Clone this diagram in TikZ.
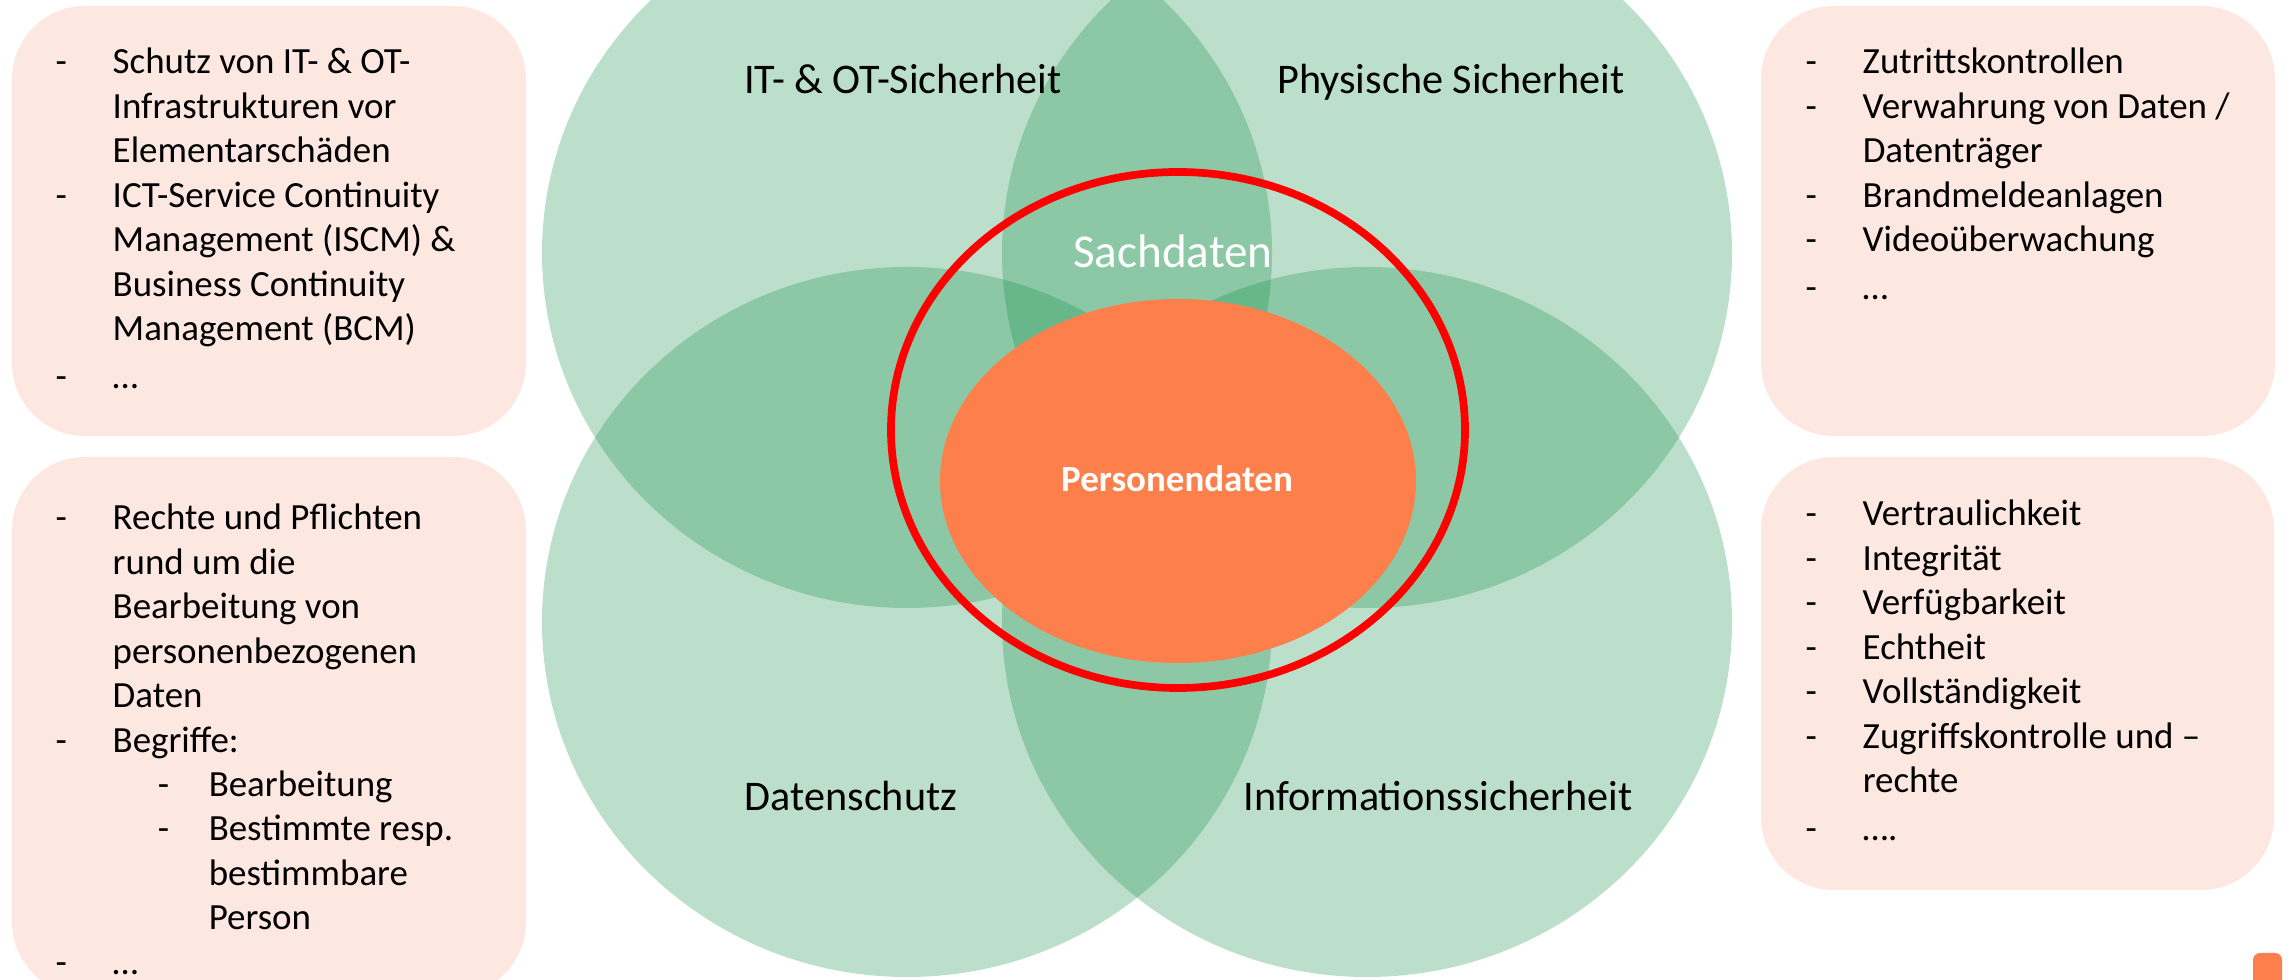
\documentclass[tikz,border=0pt]{standalone}
\usepackage{fontspec}
\setmainfont{Carlito}
\definecolor{venngreen}{RGB}{8,138,64}
\definecolor{boxpink}{RGB}{253,231,225}
\definecolor{persorange}{RGB}{252,127,76}
\colorlet{ringred}{red}

% list lines: dash, continuation, sub dash, sub continuation
\newcommand{\dashitem}[1]{\makebox[0.57cm][l]{-}#1}
\newcommand{\dashcont}[1]{\hspace*{0.57cm}#1}
\newcommand{\dashsub}[1]{\hspace*{1.02cm}\makebox[0.51cm][l]{-}#1}
\newcommand{\subcont}[1]{\hspace*{1.53cm}#1}

\tikzset{
    venn/.style={fill=venngreen, fill opacity=0.27},
    listbox/.style={fill=boxpink, rounded corners=0.73cm},
    listtext/.style={anchor=base west, inner sep=0pt, font=\fontsize{10.5}{12.63}\selectfont},
    setlabel/.style={anchor=base, inner sep=0pt, font=\fontsize{12}{14}\selectfont}
}

\begin{document}
\begin{tikzpicture}[x=0.01cm, y=-0.01cm]
        \useasboundingbox (0,0) rectangle (2290,980);
        % boxes
        \foreach \x in {12,1761}{
            \fill[listbox] (\x,6) rectangle (\x+514,436);
        }
        \fill[listbox] (12,457) rectangle (526,995);
        \fill[listbox] (1761,457) rectangle (2274,890);
        % the four sets
        \foreach \x in {907,1367}{
            \foreach \y in {253,622}{
                \fill[venn] (\x,\y) ellipse [x radius=365, y radius=355];
            }
        }
        \fill[persorange] (1178,481) ellipse [x radius=238, y radius=182];
        \draw[ringred, line width=2.2pt] (1178,430) ellipse [x radius=287, y radius=258];
        \fill[persorange, rounded corners=2pt] (2253,953) rectangle (2282,990);
        % labels
        \node[setlabel] (itot) at (903,94) {IT- \& OT-Sicherheit};
        \node[setlabel] (phys) at (1451,94) {Physische Sicherheit};
        \node[setlabel] (dsch) at (851,811) {Datenschutz};
        \node[setlabel] (info) at (1438,811) {Informationssicherheit};
        \node[anchor=base, inner sep=0pt, text=white, font=\fontsize{13.4}{16}\selectfont] (sach) at (1173,268) {Sachdaten};
        \node[anchor=base, inner sep=0pt, text=white, font=\fontsize{10.5}{12}\selectfont\bfseries] (pers) at (1177,492) {Personendaten};
        % lists
        \node[listtext] (itlist) at (55,74) {\begin{tabular}[t]{@{}l@{}}
            \dashitem{Schutz von IT- \& OT-}\\
            \dashcont{Infrastrukturen vor}\\
            \dashcont{Elementarschäden}\\
            \dashitem{ICT-Service Continuity}\\
            \dashcont{Management (ISCM) \&}\\
            \dashcont{Business Continuity}\\
            \dashcont{Management (BCM)}\\[1pt]
            \dashitem{…}
        \end{tabular}};
        \node[listtext] (dslist) at (55,530) {\begin{tabular}[t]{@{}l@{}}
            \dashitem{Rechte und Pflichten}\\
            \dashcont{rund um die}\\
            \dashcont{Bearbeitung von}\\
            \dashcont{personenbezogenen}\\
            \dashcont{Daten}\\
            \dashitem{Begriffe:}\\
            \dashsub{Bearbeitung}\\
            \dashsub{Bestimmte resp.}\\
            \subcont{bestimmbare}\\
            \subcont{Person}\\
            \dashitem{…}
        \end{tabular}};
        \node[listtext] (physlist) at (1805,74) {\begin{tabular}[t]{@{}l@{}}
            \dashitem{Zutrittskontrollen}\\
            \dashitem{Verwahrung von Daten /}\\
            \dashcont{Datenträger}\\
            \dashitem{Brandmeldeanlagen}\\
            \dashitem{Videoüberwachung}\\[1pt]
            \dashitem{…}
        \end{tabular}};
        \node[listtext] (infolist) at (1805,526) {\begin{tabular}[t]{@{}l@{}}
            \dashitem{Vertraulichkeit}\\
            \dashitem{Integrität}\\
            \dashitem{Verfügbarkeit}\\
            \dashitem{Echtheit}\\
            \dashitem{Vollständigkeit}\\
            \dashitem{Zugriffskontrolle und –}\\
            \dashcont{rechte}\\[1pt]
            \dashitem{….}
        \end{tabular}};
    \end{tikzpicture}
\end{document}
